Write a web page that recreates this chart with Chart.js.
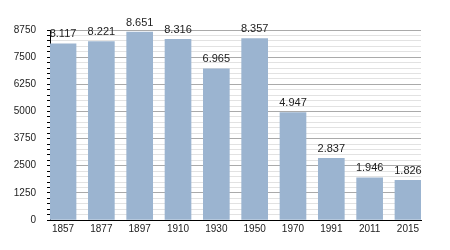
<!DOCTYPE html>
<html>
<head>
<meta charset="utf-8">
<script src="https://cdn.jsdelivr.net/npm/chart.js@4/dist/chart.umd.min.js"></script>
<style>
  html, body { margin: 0; padding: 0; background: #fff; }
  #wrap { width: 450px; height: 250px; }
</style>
</head>
<body>
<div id="wrap"><canvas id="popChart" width="450" height="250"></canvas></div>
<script>
const years = ['1857', '1877', '1897', '1910', '1930', '1950', '1970', '1991', '2011', '2015'];
const population = [8117, 8221, 8651, 8316, 6965, 8357, 4947, 2837, 1946, 1826];
const yMax = 8750;
const yStep = 250;
const yLabelStep = 1250;

// 8117 -> "8.117"
function fmt(v) {
  return (v / 1000).toFixed(3);
}

const valueLabels = {
  id: 'valueLabels',
  afterDatasetsDraw(chart) {
    const ctx = chart.ctx;
    const meta = chart.getDatasetMeta(0);
    ctx.save();
    ctx.font = '11px "Liberation Sans", Arial, sans-serif';
    ctx.fillStyle = '#222';
    ctx.textAlign = 'center';
    ctx.textBaseline = 'bottom';
    meta.data.forEach((bar, i) => {
      ctx.fillText(fmt(population[i]), bar.x, bar.y - 4);
    });
    ctx.restore();
  }
};

const ctx = document.getElementById('popChart').getContext('2d');
new Chart(ctx, {
  type: 'bar',
  data: {
    datasets: [{
      data: population.map((v, i) => ({ x: i, y: v })),
      backgroundColor: '#9bb4d0',
      borderWidth: 0,
      barThickness: 26
    }]
  },
  options: {
    responsive: false,
    animation: false,
    layout: { padding: { top: 30, right: 29, left: 0, bottom: 0 } },
    plugins: {
      legend: { display: false },
      tooltip: { enabled: false }
    },
    scales: {
      x: {
        type: 'linear',
        offset: false,
        min: -0.34,
        max: years.length - 1 + 0.34,
        afterBuildTicks: (axis) => {
          axis.ticks = years.map((_, i) => ({ value: i }));
        },
        afterFit: (axis) => { axis.height = 30; },
        grid: { display: false, drawTicks: false, offset: false },
        border: { display: true, color: '#000', width: 1 },
        ticks: {
          padding: 3,
          autoSkip: false,
          maxRotation: 0,
          color: '#222',
          font: { family: '"Liberation Sans", Arial, sans-serif', size: 10 },
          callback: (value) => years[value]
        }
      },
      y: {
        min: 0,
        max: yMax,
        afterFit: (axis) => { axis.width = 50; },
        grid: {
          color: (c) => (c.tick && c.tick.value % yLabelStep === 0) ? '#aaaaaa' : '#e2e2e2',
          tickColor: '#000',
          tickLength: 3,
          drawTicks: true
        },
        border: { display: true, color: '#000', width: 1 },
        ticks: {
          stepSize: yStep,
          autoSkip: false,
          padding: 11,
          color: '#222',
          font: { family: '"Liberation Sans", Arial, sans-serif', size: 10 },
          callback: (value) => (value % yLabelStep === 0) ? String(value) : ''
        }
      }
    }
  },
  plugins: [valueLabels]
});
</script>
</body>
</html>
